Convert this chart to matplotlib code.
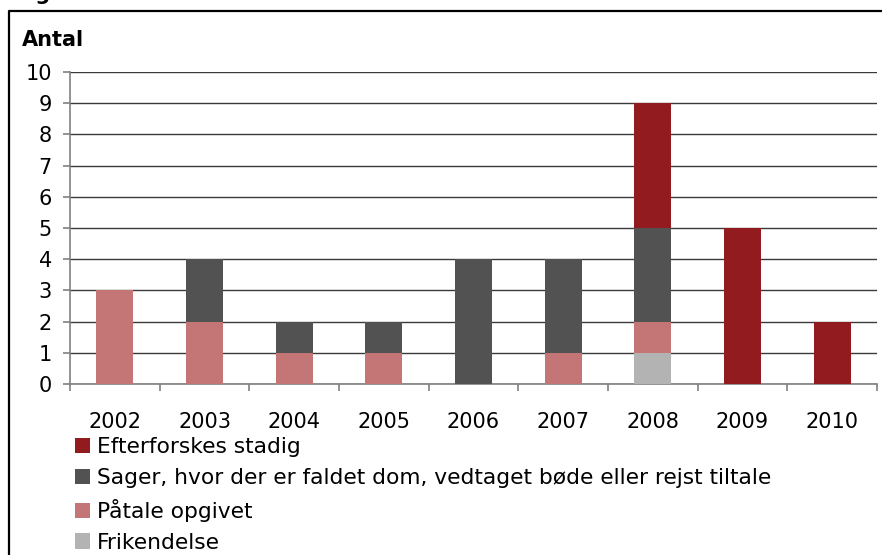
import matplotlib
matplotlib.use("Agg")
import matplotlib.pyplot as plt
from matplotlib.patches import Patch
from matplotlib.lines import Line2D
import numpy as np

plt.rcParams['font.family'] = ['DejaVu Sans']

years = ["2002", "2003", "2004", "2005", "2006", "2007", "2008", "2009", "2010"]
frikendelse = [0, 0, 0, 0, 0, 0, 1, 0, 0]
paatale = [3, 2, 1, 1, 0, 1, 1, 0, 0]
sager = [0, 2, 1, 1, 4, 3, 3, 0, 0]
efterforskes = [0, 0, 0, 0, 0, 0, 4, 5, 2]

labels = ["Efterforskes stadig",
          "Sager, hvor der er faldet dom, vedtaget bøde eller rejst tiltale",
          "Påtale opgivet",
          "Frikendelse"]
colors = {"Efterforskes stadig": "#921B1F",
          "Sager, hvor der er faldet dom, vedtaget bøde eller rejst tiltale": "#525252",
          "Påtale opgivet": "#C47676",
          "Frikendelse": "#B3B3B3"}

W, H = 882, 555
fig = plt.figure(figsize=(W / 100, H / 100), dpi=100)
ax = fig.add_axes([70 / W, 1 - 384 / H, (877 - 70) / W, (384 - 72) / H])

x = np.arange(len(years))
bw = 0.41
series = [("Frikendelse", frikendelse), ("Påtale opgivet", paatale),
          ("Sager, hvor der er faldet dom, vedtaget bøde eller rejst tiltale", sager),
          ("Efterforskes stadig", efterforskes)]
bottom = np.zeros(len(years))
for name, vals in series:
    v = np.array(vals, dtype=float)
    ax.bar(x, v, bw, bottom=bottom, color=colors[name], zorder=3, linewidth=0)
    bottom += v

ax.set_xlim(-0.5, len(years) - 0.5)
ax.set_ylim(0, 10)
ax.set_yticks(range(0, 11))
ax.yaxis.grid(True, color="#3a3a3a", linewidth=1.0, zorder=0)
ax.set_axisbelow(True)
for s in ["top", "right"]:
    ax.spines[s].set_visible(False)
ax.spines["left"].set_color("#808080")
ax.spines["bottom"].set_color("#808080")
ax.spines["left"].set_linewidth(1.2)
ax.spines["bottom"].set_linewidth(1.2)

ax.set_xticks(x)
ax.set_xticklabels(years)
ax.set_xticks(np.arange(-0.5, len(years)), minor=True)
ax.tick_params(axis="x", which="major", length=0, pad=20, labelsize=15)
ax.tick_params(axis="x", which="minor", length=5, color="#808080", width=1.2)
ax.tick_params(axis="y", length=5, color="#808080", width=1.2, pad=8, labelsize=15)

fig.text(22 / W, 1 - 40 / H, "Antal", fontsize=15, fontweight="bold", va="center", ha="left")
fig.text(14 / W, 1 + 0.5 / H, "Figur", fontsize=15, fontweight="bold", va="baseline", ha="left")

# frame
fig.add_artist(Line2D([9 / W, 9 / W, 1.0], [0.0, 1 - 11 / H, 1 - 11 / H],
                      transform=fig.transFigure, color="black", linewidth=1.6))

handles = [Patch(facecolor=colors[l], edgecolor="none") for l in labels]
fig.legend(handles, labels, loc="upper left", bbox_to_anchor=(75 / W, 1 - 437 / H),
           frameon=False, fontsize=15.7, handlelength=0.7, handleheight=0.7,
           handletextpad=0.3, labelspacing=0.5, borderaxespad=0, borderpad=0)

fig.savefig("out.png", dpi=100)
